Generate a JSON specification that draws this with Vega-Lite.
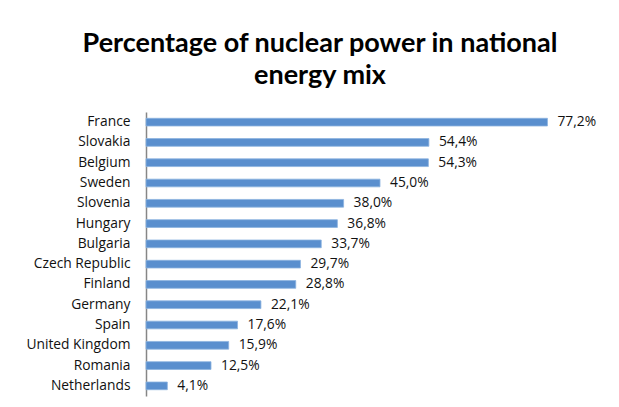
{
  "$schema": "https://vega.github.io/schema/vega-lite/v6.json",
  "autosize": "none",
  "width": 416,
  "height": 284,
  "padding": {"left": 146, "top": 112, "right": 57, "bottom": 11},
  "background": "white",
  "title": {
    "text": ["Percentage of nuclear power in national", "energy mix"],
    "font": "Lato",
    "fontSize": 27,
    "fontWeight": "bold",
    "color": "black",
    "anchor": "middle",
    "frame": "group",
    "dx": -34,
    "lineHeight": 32,
    "offset": 22
  },
  "data": {
    "values": [
      {"country": "France", "value": 77.2, "label": "77,2%"},
      {"country": "Slovakia", "value": 54.4, "label": "54,4%"},
      {"country": "Belgium", "value": 54.3, "label": "54,3%"},
      {"country": "Sweden", "value": 45.0, "label": "45,0%"},
      {"country": "Slovenia", "value": 38.0, "label": "38,0%"},
      {"country": "Hungary", "value": 36.8, "label": "36,8%"},
      {"country": "Bulgaria", "value": 33.7, "label": "33,7%"},
      {"country": "Czech Republic", "value": 29.7, "label": "29,7%"},
      {"country": "Finland", "value": 28.8, "label": "28,8%"},
      {"country": "Germany", "value": 22.1, "label": "22,1%"},
      {"country": "Spain", "value": 17.6, "label": "17,6%"},
      {"country": "United Kingdom", "value": 15.9, "label": "15,9%"},
      {"country": "Romania", "value": 12.5, "label": "12,5%"},
      {"country": "Netherlands", "value": 4.1, "label": "4,1%"}
    ]
  },
  "encoding": {
    "y": {
      "field": "country",
      "type": "nominal",
      "sort": null,
      "title": null,
      "scale": {"paddingInner": 0.62, "paddingOuter": 0.31},
      "axis": {
        "domain": true,
        "domainColor": "#868686",
        "domainWidth": 1.5,
        "ticks": false,
        "labelPadding": 16,
        "labelFont": "Open Sans",
        "labelFontSize": 13.8,
        "labelColor": "#111111"
      }
    },
    "x": {
      "field": "value",
      "type": "quantitative",
      "scale": {"domain": [0, 80], "nice": false},
      "axis": null
    }
  },
  "layer": [
    {"mark": {"type": "bar", "color": "#5A8FCE", "stroke": "#8CB2E0", "strokeWidth": 0.8}},
    {
      "mark": {"type": "text", "align": "left", "baseline": "middle", "dx": 10, "font": "Open Sans", "fontSize": 13.8, "color": "#111111"},
      "encoding": {"text": {"field": "label"}}
    }
  ],
  "config": {"view": {"stroke": null}}
}
